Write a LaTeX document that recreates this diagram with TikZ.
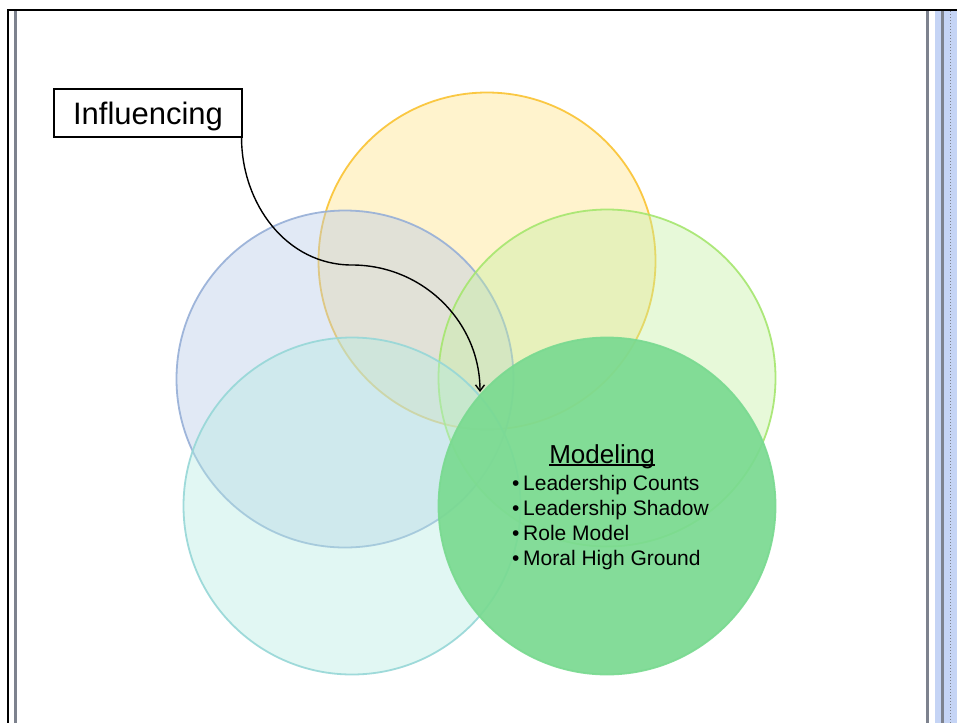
\documentclass[tikz,border=0pt]{standalone}
\usepackage{fontspec}
\setmainfont{Liberation Sans}
\usetikzlibrary{arrows.meta}
\definecolor{framegrey}{RGB}{125,130,142}
\definecolor{stripblue}{RGB}{197,212,245}
\definecolor{yelfill}{RGB}{255,226,130}
\definecolor{yelline}{RGB}{250,195,50}
\definecolor{bluefill}{RGB}{180,200,232}
\definecolor{blueline}{RGB}{150,175,215}
\definecolor{lgfill}{RGB}{195,240,160}
\definecolor{lgline}{RGB}{165,230,110}
\definecolor{cyfill}{RGB}{180,235,225}
\definecolor{cyline}{RGB}{150,215,215}
\definecolor{frontgreen}{RGB}{122,218,145}
\newcommand\myul[1]{\setbox0\hbox{#1}\rlap{\rule[-2.8pt]{\wd0}{1.4pt}}\box0}
\begin{document}
\begin{tikzpicture}[x=1pt,y=-1pt,
  circ/.style={circle,inner sep=0pt,minimum size=337pt,line width=1.8pt},
  bullet/.style={anchor=base west,inner sep=0pt,font=\fontsize{21}{25}\selectfont},
  labelbox/.style={draw=black,line width=1.1pt,fill=white,minimum width=188pt,minimum height=48pt,inner sep=0pt,text height=23pt,text depth=0pt,font=\fontsize{31}{36}\selectfont}]
\useasboundingbox (0,0) rectangle (957,723);
\fill[white] (0,0) rectangle (957,723);
% frame
\fill[stripblue] (934.7,11) rectangle (957,723);
\fill[framegrey] (941.3,11) rectangle (944,723);
\draw[framegrey,line width=1pt,dotted] (950.5,11) -- (950.5,723);
\fill[framegrey] (926,11) rectangle (928.7,723);
\fill[framegrey] (14,11) rectangle (16.6,723);
\fill[black] (7,9.2) rectangle (957,11.2);
\fill[black] (7,9.2) rectangle (9.2,723);
% circles
\node[circ,draw=yelline,fill=yelfill,fill opacity=0.4,draw opacity=0.9] (cy) at (487,261) {};
\node[circ,draw=blueline,fill=bluefill,fill opacity=0.4,draw opacity=0.9] (cb) at (345,379) {};
\node[circ,draw=lgline,fill=lgfill,fill opacity=0.4,draw opacity=0.9] (cg) at (607,378) {};
\node[circ,draw=cyline,fill=cyfill,fill opacity=0.4,draw opacity=0.9] (cc) at (352,506) {};
\node[circ,draw=frontgreen,fill=frontgreen,fill opacity=0.92,draw opacity=0.92] (cm) at (607,506) {};
% texts in front circle
\node[anchor=base,inner sep=0pt,font=\fontsize{26}{30}\selectfont] (mod) at (602,463) {\myul{Modeling}};
\node[bullet] (b1) at (512,490) {\makebox[11pt][l]{•}Leadership Counts};
\node[bullet] (b2) at (512,515) {\makebox[11pt][l]{•}Leadership Shadow};
\node[bullet] (b3) at (512,540) {\makebox[11pt][l]{•}Role Model};
\node[bullet] (b4) at (512,565) {\makebox[11pt][l]{•}Moral High Ground};
% label and connector
\node[labelbox] (infl) at (148,113) {Influencing};
\coordinate (mid) at (352,265);
\coordinate (tip) at (480,392);
\draw[line width=1.4pt,-{Straight Barb[length=6pt,width=9pt]}]
  ([xshift=-1pt]infl.south east) to[out=-90,in=180] (mid) to[out=0,in=90] (tip);
\end{tikzpicture}
\end{document}
